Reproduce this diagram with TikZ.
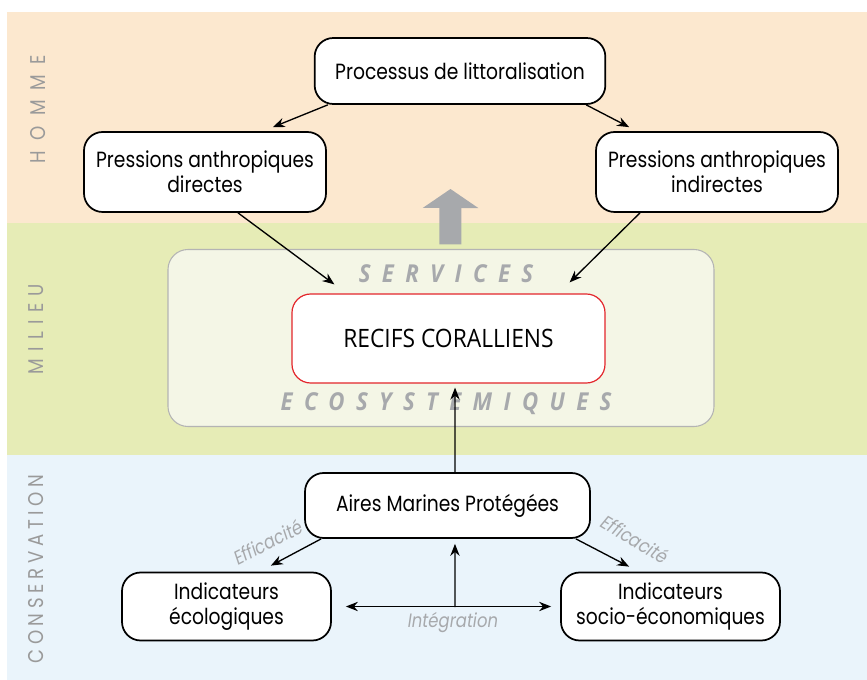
\documentclass[tikz,border=0pt]{standalone}
\usepackage{fontspec}
\setmainfont[FakeStretch=0.85]{Poppins}
\newfontfamily\recfont[FakeStretch=0.9]{Open Sans}
\usetikzlibrary{arrows.meta, positioning}

\definecolor{hommebg}{HTML}{FCE8CF}
\definecolor{milieubg}{HTML}{E6ECB6}
\definecolor{conservbg}{HTML}{EAF4FB}
\definecolor{servfill}{HTML}{F4F6E6}
\definecolor{servline}{HTML}{B4B4B4}
\definecolor{servgrey}{HTML}{A7A9AC}
\definecolor{sidegrey}{HTML}{9A9A9A}
\definecolor{recifred}{HTML}{E3262B}

\begin{document}
\begin{tikzpicture}[x=0.75pt, y=-0.75pt, >={Stealth[length=9pt, width=7pt]},
  box/.style={rectangle, draw, rounded corners=14pt, line width=1.3pt, fill=white, align=center, inner sep=0pt, font=\fontsize{16.5}{19}\selectfont},
  sidelabel/.style={rotate=90, text=sidegrey, font={\fontsize{16}{16}\selectfont\addfontfeature{LetterSpace=#1}}},
  servlabel/.style={text=servgrey, font={\recfont\bfseries\itshape\fontsize{18.5}{18.5}\selectfont\addfontfeature{LetterSpace=46}}},
  note/.style={text=servgrey, font=\itshape\fontsize{14.5}{14.5}\selectfont}]
\fill[white] (0,0) rectangle (867,680);
\useasboundingbox (0,0) rectangle (867,680);

% bands
\fill[hommebg] (7,12) rectangle (867,223);
\fill[milieubg] (7,223) rectangle (867,455);
\fill[conservbg] (7,455) rectangle (867,680);
\node (homme) [sidelabel=48] at (38,109) {HOMME};
\node (milieu) [sidelabel=34] at (36,329) {MILIEU};
\node (conserv) [sidelabel=22] at (36,569) {CONSERVATION};

% services ecosystemiques
\node (serv) [rectangle, draw=servline, fill=servfill, rounded corners=15pt, line width=0.8pt, minimum width=409.5pt, minimum height=132.75pt] at (441,338) {};
\node (services) [servlabel] at (446,274) {SERVICES};
\node (ecosys) [servlabel] at (446,404) {ECOSYSTEMIQUES};
\coordinate (up) at (450.5,189);
\draw[servgrey, line width=16.5pt, -{Triangle[length=14.25pt, width=41pt]}] ([xshift=7.1pt, yshift=3.4pt]serv.north) -- (up);

% nodes
\node (proc) [box, minimum width=218pt, minimum height=49.5pt] at (460,71) {Processus de littoralisation};
\node (dir) [box, minimum width=181.5pt, minimum height=60pt] at (205,172) {Pressions anthropiques\\directes};
\node (indir) [box, minimum width=181.5pt, minimum height=60pt] at (717,172) {Pressions anthropiques\\indirectes};
\node (recif) [box, draw=recifred, line width=0.9pt, minimum width=234.75pt, minimum height=66.75pt, font={\recfont\fontsize{19}{19}\selectfont}] at (448.5,338.5) {RECIFS CORALLIENS};
\node (amp) [box, minimum width=213.75pt, minimum height=48.75pt] at (447.5,505.5) {Aires Marines Protégées};
\node (eco) [box, minimum width=156.75pt, minimum height=51pt] at (226.5,606.5) {Indicateurs\\écologiques};
\node (socio) [box, minimum width=164.25pt, minimum height=51pt] at (670.5,606.5) {Indicateurs\\socio-économiques};

% arrows
\draw[->, line width=1pt] ([xshift=10.5pt]proc.south west) -- ([xshift=-40.5pt, yshift=3pt]dir.north east);
\draw[->, line width=1pt] ([xshift=-15pt]proc.south east) -- ([xshift=25.5pt, yshift=3pt]indir.north west);
\draw[->, line width=1pt] ([xshift=24.75pt]dir.south) -- ([xshift=32.25pt, yshift=6.75pt]recif.north west);
\draw[->, line width=1pt] ([xshift=-57.75pt]indir.south) -- ([xshift=-27pt, yshift=8.25pt]recif.north east);
\draw[->, line width=1pt] ([xshift=5.6pt]amp.north) -- ([xshift=4.9pt, yshift=-3pt]recif.south);
\draw[->, line width=1pt] ([xshift=12.75pt]amp.south west) -- ([xshift=-45.75pt, yshift=4.5pt]eco.north east);
\draw[->, line width=1pt] ([xshift=-11.25pt]amp.south east) -- ([xshift=51.75pt, yshift=3.75pt]socio.north west);
\draw[<->, line width=1pt] ([xshift=10.5pt]eco.east) -- ([xshift=-6.75pt]socio.west);
\coordinate (integ) at (455,607);
\draw[->, line width=1pt] (integ) -- ([xshift=5.6pt, yshift=-3.75pt]amp.south);

% labels
\node (effeco) [note, rotate=27] at (268,542) {Efficacité};
\node (effsocio) [note, rotate=-31] at (635,539) {Efficacité};
\node (integlbl) [note] at (453,623) {Intégration};
\end{tikzpicture}
\end{document}
